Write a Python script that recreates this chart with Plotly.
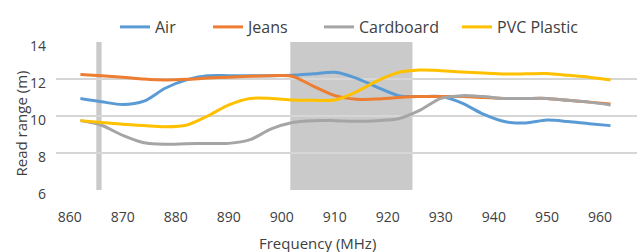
import plotly.graph_objects as go

freq = [862, 866, 870, 874, 878, 882, 886, 890, 894, 898, 902, 906, 910,
        914, 918, 922, 926, 930, 934, 938, 942, 946, 950, 954, 958, 962]

air = [10.95, 10.77, 10.62, 10.8, 11.5, 11.95, 12.17, 12.18, 12.18, 12.18, 12.2, 12.28, 12.36,
       12.05, 11.55, 11.1, 11.05, 11.05, 10.7, 10.1, 9.7, 9.62, 9.78, 9.7, 9.58, 9.48]
jeans = [12.25, 12.18, 12.1, 12.0, 11.95, 11.98, 12.05, 12.1, 12.15, 12.18, 12.15, 11.6, 11.1,
         10.9, 10.92, 11.0, 11.05, 11.05, 11.05, 11.0, 10.95, 10.95, 10.95, 10.85, 10.75, 10.65]
cardboard = [9.75, 9.5, 8.95, 8.55, 8.47, 8.5, 8.52, 8.52, 8.72, 9.3, 9.65, 9.75, 9.75,
             9.72, 9.75, 9.85, 10.3, 10.95, 11.1, 11.05, 10.95, 10.95, 10.95, 10.85, 10.75, 10.6]
pvc = [9.75, 9.65, 9.55, 9.48, 9.42, 9.5, 10.0, 10.6, 10.95, 10.95, 10.86, 10.85, 10.86,
       11.3, 11.9, 12.35, 12.48, 12.45, 12.38, 12.32, 12.27, 12.28, 12.3, 12.2, 12.1, 11.95]

series_names = ["Air", "Jeans", "Cardboard", "PVC Plastic"]
series_values = [air, jeans, cardboard, pvc]
colors = ["#5b9bd5", "#ed7d31", "#a5a5a5", "#ffc000"]

bands = [(865.0, 866.0), (901.6, 924.65)]

x_ticks = [860, 870, 880, 890, 900, 910, 920, 930, 940, 950, 960]
y_ticks = [6, 8, 10, 12, 14]

FONT = "Open Sans"
TXT = "#404040"
L, T, PW, PH = 56, 42, 581, 148
legend_px = [121, 214, 325, 463]   # left edge of each legend key (pixels)
legend_ids = ["legend", "legend2", "legend3", "legend4"]

fig = go.Figure()
for name, vals, col, lid in zip(series_names, series_values, colors, legend_ids):
    fig.add_trace(go.Scatter(x=freq, y=vals, name=name, mode="lines", legend=lid,
                             line=dict(color=col, width=3, shape="spline", smoothing=0.8)))

for x0, x1 in bands:
    fig.add_shape(type="rect", xref="x", yref="paper", x0=x0, x1=x1, y0=0, y1=1,
                  fillcolor="rgba(128,128,128,0.42)", line=dict(width=0), layer="between")

fig.add_annotation(text="Frequency (MHz)", xref="paper", yref="paper",
                   x=(317 - L) / PW, y=(T + PH - 243) / PH, xanchor="center", yanchor="middle",
                   showarrow=False, font=dict(family=FONT, size=15, color=TXT))
fig.add_annotation(text="Read range (m)", xref="paper", yref="paper", textangle=-90,
                   x=(20 - L) / PW, y=(T + PH - 123.5) / PH, xanchor="center", yanchor="middle",
                   showarrow=False, font=dict(family=FONT, size=15, color=TXT))

legend_common = dict(orientation="h", xanchor="left", y=(T + PH - 27) / PH, yanchor="middle",
                     font=dict(family=FONT, size=16, color=TXT), bgcolor="rgba(0,0,0,0)",
                     itemwidth=30)
legend_layout = {lid: dict(x=(px - 6 - L) / PW, **legend_common)
                 for lid, px in zip(legend_ids, legend_px)}

fig.update_layout(
    width=643, height=252,
    margin=dict(l=L, r=643 - L - PW, t=T, b=252 - T - PH, autoexpand=False),
    paper_bgcolor="white", plot_bgcolor="white",
    font=dict(family=FONT, size=14, color=TXT),
    showlegend=True,
    xaxis=dict(range=[857.4, 967], tickvals=x_ticks, showgrid=False, zeroline=False,
               showline=False, ticks="", automargin=False, ticklabelstandoff=17,
               tickfont=dict(size=14, family=FONT, color=TXT)),
    yaxis=dict(range=[6, 14], tickvals=y_ticks, showgrid=True, gridcolor="#d6d6d6", gridwidth=2,
               zeroline=False, showline=False, ticks="", automargin=False,
               ticklabelstandoff=9, ticklabelshift=4,
               tickfont=dict(size=14, family=FONT, color=TXT)),
    **legend_layout,
)

fig.write_html("out.html", config={"displayModeBar": False},
               post_script="document.body.style.margin='0';")
